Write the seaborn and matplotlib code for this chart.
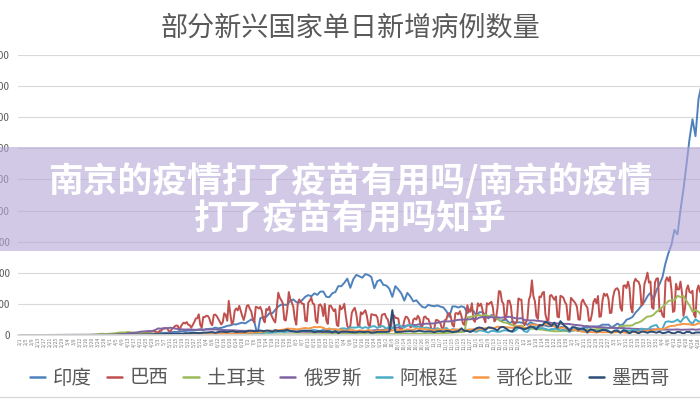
import numpy as np
import pandas as pd
import matplotlib.pyplot as plt
from matplotlib.lines import Line2D
from matplotlib.patches import Rectangle
import seaborn as sns

# daily new cases, in thousands
# India and the smaller countries: one value every 2 days from 2020-02-01
india = [
    0, 0, 0, 0, 0, 0, 0, 0, 0, 0, 0, 0, 0, 0, 0,                                   # Feb
    0, 0, 0, 0, 0, 0, 0, 0.03, 0.05, 0.1, 0.1, 0.1, 0.2, 0.1, 0.2,                  # Mar
    0.4, 0.5, 0.6, 0.7, 0.9, 1.0, 0.9, 1.1, 1.3, 1.4, 1.5, 1.6, 1.8, 1.9, 1.8,      # Apr
    2.3, 2.6, 3.6, 3.4, 3.6, 4.0, 5.0, 4.9, 5.6, 6.1, 6.6, 6.9, 7.2, 7.5, 8.0, 8.3, # May
    8.2, 9.3, 9.9, 10.0, 11.9, 10.7, 11.5, 12.9, 14.7, 15.4, 17.3, 16.9, 18.6, 19.9, 18.6,
    21.9, 24.9, 22.2, 0, 27.1, 28.7, 29.1, 34.9, 34.8, 40.4, 45.7, 48.9, 48.6, 48.5, 55.1,
    57.1, 52.9, 52.0, 56.3, 61.5, 64.1, 62.1, 66.9, 64.5, 69.7, 69.9, 61.4, 60.9, 67.1, 69.0, 78.5,
    78.4, 83.9, 90.6, 75.8, 89.7, 96.6, 94.4, 92.0, 97.9, 96.4, 93.3, 75.1, 86.5, 88.6, 80.5,
    79.5, 74.4, 61.3, 78.5, 73.2, 66.7, 55.3, 67.7, 61.9, 54.0, 55.8, 50.1, 45.1, 43.9, 48.6,
    46.9, 46.2, 47.6, 45.6, 44.3, 38.3, 29.2, 45.9, 45.9, 44.1, 46.2, 44.5, 35.0, 41.8, 38.8,
    31.1, 36.6, 36.7, 32.9, 26.6, 32.1, 30.3, 26.4, 22.9, 24.0, 24.7, 18.7, 21.8, 20.0, 20.5, 20.0,
    18.2, 16.4, 20.3, 18.1, 16.8, 12.6, 15.9, 15.2, 13.8, 14.3, 14.8, 9.1, 12.7, 13.1, 13.0,
    8.6, 12.9, 11.7, 11.1, 9.1, 12.2, 11.6, 13.2, 13.9, 13.7, 14.2, 16.7, 16.4, 16.8,
    12.3, 14.9, 18.3, 15.4, 17.9, 24.5, 26.3, 28.9, 35.9, 40.9, 47.3, 53.5, 62.3, 68.0, 56.2, 72.3,
    81.5, 93.2, 115.3, 131.9, 145.4, 168.9, 161.7, 200.7, 234.7, 273.8, 314.8, 346.8, 319.5, 379.3, 401.9,
]

# Brazil: daily, one row per week (Sat..Fri) starting 2020-02-01
brazil_weeks = [
    [0, 0, 0, 0, 0, 0, 0], [0, 0, 0, 0, 0, 0, 0], [0, 0, 0, 0, 0, 0, 0], [0, 0, 0, 0, 0, 0, 0],
    [0, 0, 0, 0, 0, 0, 0],
    [0, 0, 0, 0, 0.01, 0.02, 0.05],
    [0.05, 0.04, 0.07, 0.09, 0.1, 0.14, 0.3],
    [0.3, 0.2, 0.4, 0.3, 0.2, 0.5, 0.5],
    [0.5, 0.35, 0.3, 1.1, 1.2, 1.1, 1.1],
    [1.2, 0.9, 0.9, 1.6, 2.2, 1.9, 1.8],
    [1.2, 1.0, 1.3, 1.8, 3.0, 3.3, 3.1],
    [2.0, 1.9, 2.1, 1.8, 2.5, 3.7, 4.0],
    [3.5, 4.0, 4.6, 5.4, 6.3, 7.2, 5.0],
    [4.6, 4.1, 6.8, 6.6, 10.5, 9.9, 11.1],
    [10.6, 6.6, 5.6, 9.3, 11.4, 13.9, 15.3],
    [14.9, 7.9, 13.1, 17.4, 19.9, 18.5, 20.8],
    [16.5, 15.8, 11.7, 16.3, 20.6, 26.4, 26.9],
    [33.3, 16.4, 11.6, 28.9, 28.6, 30.9, 30.8],
    [27.1, 18.9, 15.7, 32.1, 32.9, 30.4, 25.9],
    [21.7, 17.1, 20.6, 34.9, 32.2, 22.8, 54.8],
    [34.7, 17.5, 21.4, 39.4, 42.7, 39.5, 46.9],
    [38.7, 30.5, 24.1, 33.8, 46.7, 48.1, 42.2],
    [37.9, 26.1, 20.2, 45.3, 44.6, 42.6, 45.0],
    [39.0, 24.8, 20.3, 41.8, 39.9, 45.4, 34.2],
    [28.5, 23.5, 20.3, 44.9, 67.9, 59.9, 55.9],
    [51.1, 24.6, 23.3, 40.8, 69.1, 57.8, 52.4],
    [45.4, 25.8, 16.6, 51.6, 57.2, 53.1, 50.2],
    [49.9, 23.0, 22.0, 52.1, 55.2, 60.1, 50.6],
    [49.3, 23.1, 19.4, 47.8, 49.3, 45.3, 30.4],
    [50.0, 23.4, 17.8, 47.2, 47.1, 42.7, 38.4],
    [41.4, 16.2, 14.3, 47.1, 41.4, 43.7, 50.2],
    [30.2, 14.5, 10.3, 14.8, 35.8, 40.6, 43.7],
    [33.5, 15.2, 13.4, 36.6, 33.4, 36.8, 39.8],
    [30.9, 16.4, 13.4, 33.5, 32.8, 31.9, 32.1],
    [28.2, 14.3, 13.0, 32.1, 33.4, 34.0, 27.8],
    [24.9, 12.3, 8.4, 31.6, 31.6, 27.4, 27.4],
    [26.3, 10.1, 9.1, 12.3, 23.4, 29.6, 28.4],
    [24.1, 12.4, 13.4, 24.8, 26.9, 24.8, 30.9],
    [26.9, 14.1, 13.5, 28.6, 29.8, 26.2, 25.7],
    [18.9, 10.1, 8.4, 10.8, 23.9, 24.0, 22.2],
    [18.9, 10.9, 10.6, 23.9, 25.0, 33.9, 35.3],
    [29.1, 16.2, 13.4, 34.9, 35.2, 33.1, 38.3],
    [30.9, 18.6, 16.2, 31.1, 47.9, 37.6, 37.6],
    [51.1, 24.5, 21.1, 31.9, 50.9, 46.9, 50.4],
    [41.5, 26.5, 20.4, 51.1, 48.9, 51.5, 53.3],
    [43.9, 21.8, 25.2, 42.4, 70.6, 69.8, 54.1],
    [50.2, 25.0, 30.0, 55.0, 55.3, 46.7, 22.3],
    [17.3, 18.4, 22.0, 58.7, 56.8, 56.8, 24.6],
    [15.8, 20.0, 25.1, 56.6, 63.4, 87.8, 62.4],
    [54.2, 29.8, 25.8, 61.8, 60.8, 67.8, 69.2],
    [33.0, 24.0, 23.7, 63.0, 64.3, 60.0, 56.6],
    [61.9, 29.5, 28.3, 63.0, 61.8, 59.9, 52.7],
    [49.1, 24.6, 24.6, 59.7, 56.9, 54.1, 50.9],
    [45.3, 25.0, 24.6, 52.5, 56.9, 51.5, 47.5],
    [43.6, 22.9, 23.1, 34.0, 53.0, 58.0, 51.0],
    [62.7, 29.1, 30.1, 55.0, 66.6, 63.0, 65.9],
    [58.2, 35.2, 35.8, 59.9, 70.8, 74.4, 75.1],
    [69.6, 43.8, 38.9, 79.2, 79.9, 75.4, 85.7],
    [76.2, 43.8, 36.2, 84.0, 90.3, 86.9, 85.7],
    [79.1, 47.8, 49.3, 82.5, 89.9, 100.2, 84.2],
    [85.9, 44.3, 42.0, 84.5, 90.6, 91.1, 37.9],
    [41.2, 31.4, 28.6, 86.9, 92.6, 86.7, 93.3],
    [71.8, 37.0, 38.9, 82.2, 73.5, 73.1, 85.8],
    [67.6, 30.6, 42.9, 73.2, 79.7, 69.1, 67.9],
    [71.1, 32.6, 28.6, 72.1, 79.7, 69.4, 67.6],
]
brazil = [v for week in brazil_weeks for v in week]

turkey = [
    0, 0, 0, 0, 0, 0, 0, 0, 0, 0, 0, 0, 0, 0, 0,
    0, 0, 0, 0, 0, 0, 0.005, 0.02, 0.1, 0.3, 0.6, 1.2, 2.0, 1.7, 1.6,
    2.1, 2.5, 3.0, 3.9, 4.1, 4.1, 4.8, 3.8, 3.9, 3.8, 3.1, 3.1, 2.9, 2.4, 2.1,
    2.2, 1.7, 1.6, 1.7, 1.5, 1.7, 1.4, 1.0, 1.2, 1.0, 0.95, 1.1, 1.0, 0.9, 0.85, 0.8,
    0.8, 1.0, 1.0, 1.1, 1.2, 1.5, 1.6, 1.5, 1.4, 1.4, 1.3, 1.2, 1.1, 1.2, 1.2,
    1.1, 1.1, 1.1, 1.0, 1.0, 0.95, 0.95, 0.9, 0.9, 0.95, 0.93, 0.92, 0.95, 0.97, 1.0,
    1.0, 1.0, 1.1, 1.2, 1.2, 1.2, 1.3, 1.3, 1.3, 1.4, 1.4, 1.5, 1.5, 1.5, 1.6, 1.6,
    1.6, 1.7, 1.7, 1.7, 1.7, 1.7, 1.7, 1.6, 1.6, 1.5, 1.5, 1.5, 1.4, 1.4, 1.4,
    1.4, 1.4, 1.4, 1.4, 1.5, 1.5, 1.6, 1.7, 1.8, 2.0, 2.1, 2.2, 2.3, 2.3, 2.4,
    2.5, 2.6, 2.7, 2.9, 3.1, 3.3, 3.5, 4.0, 4.2, 4.5, 4.8, 5.2, 28.4, 29.1, 30.1,
    31.2, 32.1, 30.4, 32.7, 30.4, 30.1, 29.7, 26.2, 22.4, 20.3, 19.8, 17.5, 15.8, 14.2, 13.7, 15.2,
    11.7, 10.3, 10.3, 10.0, 9.5, 8.9, 8.7, 7.6, 7.2, 6.6, 6.0, 6.0, 6.1, 6.3, 6.1,
    6.6, 7.0, 7.5, 7.1, 7.0, 7.8, 8.0, 8.8, 8.7, 9.6, 9.8, 10.3, 10.9, 11.2,
    11.8, 11.7, 11.3, 14.1, 14.6, 15.1, 15.1, 15.5, 18.9, 20.0, 22.3, 26.2, 29.7, 30.0, 32.4, 37.3,
    40.8, 44.8, 49.6, 54.7, 55.9, 55.8, 63.1, 61.0, 62.8, 54.8, 47.7, 37.3, 40.3, 37.3, 31.3,
]

russia = [
    0, 0, 0, 0, 0, 0, 0, 0, 0, 0, 0, 0, 0, 0, 0,
    0, 0, 0, 0, 0, 0, 0, 0.01, 0.03, 0.05, 0.07, 0.16, 0.18, 0.27, 0.3,
    0.44, 0.6, 0.95, 1.15, 1.46, 1.8, 2.55, 3.39, 3.45, 4.07, 5.24, 5.64, 6.06, 6.41, 5.84,
    7.93, 10.6, 10.1, 11.0, 10.9, 11.7, 10.9, 9.97, 9.26, 8.96, 8.76, 8.91, 8.85, 8.37, 8.57, 9.27,
    8.53, 8.83, 8.85, 8.79, 8.98, 8.40, 8.25, 8.25, 7.79, 7.6, 7.6, 7.18, 6.8, 6.69, 6.56,
    6.76, 6.73, 6.61, 6.56, 6.61, 6.64, 6.54, 6.42, 6.23, 6.06, 5.84, 5.87, 5.81, 5.63, 5.48,
    5.46, 5.4, 5.27, 5.2, 5.1, 5.1, 5.1, 5.0, 4.9, 4.8, 4.7, 4.8, 4.7, 4.8, 4.9, 4.73,
    4.97, 5.11, 5.2, 5.4, 5.5, 5.7, 5.9, 6.1, 6.2, 6.6, 7.0, 7.5, 8.1, 8.2, 8.2,
    9.4, 10.5, 11.6, 11.6, 12.1, 13.6, 14.2, 15.2, 15.7, 15.9, 16.2, 17.3, 17.3, 18.1, 18.3,
    18.6, 18.6, 19.7, 20.6, 21.8, 21.9, 21.8, 22.4, 23.6, 24.3, 24.6, 25.0, 25.2, 25.2, 26.6,
    25.4, 28.1, 28.8, 29.0, 28.6, 28.6, 28.2, 28.5, 27.7, 28.2, 28.9, 29.3, 28.1, 27.0, 26.5, 27.0,
    24.2, 23.7, 23.4, 23.5, 22.9, 22.6, 21.8, 21.1, 20.6, 19.3, 18.7, 18.6, 18.2, 18.0, 17.8,
    17.7, 16.7, 16.2, 15.7, 15.2, 14.2, 14.4, 13.5, 13.0, 12.8, 12.6, 12.4, 11.9, 11.5,
    11.5, 11.3, 11.0, 11.0, 11.2, 10.6, 10.6, 10.0, 9.9, 9.6, 9.1, 9.3, 9.1, 9.0, 9.0, 8.7,
    8.8, 8.6, 8.7, 8.6, 8.6, 8.7, 9.0, 8.4, 8.5, 8.7, 8.7, 9.1, 8.4, 8.8, 9.3,
]

argentina = [
    0, 0, 0, 0, 0, 0, 0, 0, 0, 0, 0, 0, 0, 0, 0,
    0, 0, 0, 0, 0, 0, 0.01, 0.01, 0.02, 0.04, 0.06, 0.05, 0.09, 0.1, 0.1,
    0.1, 0.1, 0.1, 0.1, 0.1, 0.08, 0.1, 0.1, 0.1, 0.1, 0.12, 0.15, 0.12, 0.12, 0.13,
    0.1, 0.15, 0.17, 0.2, 0.25, 0.28, 0.27, 0.35, 0.45, 0.6, 0.7, 0.6, 0.8, 0.65, 0.8, 0.8,
    0.9, 0.95, 1.1, 1.2, 1.4, 1.5, 1.6, 1.4, 1.9, 2.0, 2.3, 2.1, 2.6, 2.2, 2.7,
    2.8, 2.8, 2.6, 3.6, 3.4, 3.1, 4.2, 3.5, 4.2, 4.3, 5.3, 5.6, 4.6, 5.9, 6.4,
    5.9, 5.6, 6.8, 6.6, 7.4, 6.7, 7.1, 8.2, 6.8, 6.4, 8.7, 8.1, 7.6, 9.2, 8.5, 8.1,
    10.5, 10.7, 9.6, 12.0, 11.9, 12.0, 13.5, 10.9, 12.7, 11.2, 13.5, 14.4, 11.3, 14.1, 14.0,
    10.0, 13.9, 10.4, 15.0, 17.1, 13.5, 11.7, 15.5, 16.3, 13.5, 12.9, 13.6, 10.6, 11.8, 11.7,
    8.9, 9.3, 11.0, 8.7, 9.3, 11.5, 7.3, 9.4, 8.9, 7.8, 7.3, 7.2, 8.6, 8.4, 6.0,
    5.2, 7.4, 7.0, 5.5, 3.9, 6.8, 6.2, 5.1, 5.4, 7.4, 7.4, 6.3, 4.9, 7.1, 11.3, 10.6,
    5.8, 4.9, 11.6, 13.8, 12.0, 10.3, 11.2, 9.8, 8.2, 9.5, 9.5, 10.4, 7.3, 8.7, 7.5,
    4.9, 7.2, 8.2, 6.3, 7.4, 6.2, 3.5, 8.2, 6.9, 4.3, 7.6, 7.0, 9.0, 7.1,
    3.2, 6.8, 8.0, 4.5, 8.2, 7.3, 6.5, 8.4, 8.2, 6.3, 10.4, 8.6, 7.4, 12.9, 15.0, 16.1,
    8.6, 10.1, 20.9, 22.0, 20.9, 21.8, 24.8, 20.5, 27.0, 29.5, 22.0, 18.1, 25.3, 21.8, 21.1,
]

colombia = [
    0, 0, 0, 0, 0, 0, 0, 0, 0, 0, 0, 0, 0, 0, 0,
    0, 0, 0, 0, 0, 0, 0, 0.01, 0.03, 0.03, 0.05, 0.06, 0.05, 0.08, 0.05,
    0.1, 0.1, 0.1, 0.1, 0.1, 0.1, 0.1, 0.1, 0.12, 0.2, 0.2, 0.25, 0.25, 0.2, 0.26,
    0.2, 0.3, 0.3, 0.4, 0.5, 0.4, 0.35, 0.6, 0.6, 0.6, 0.7, 0.6, 0.8, 0.7, 0.9, 1.0,
    1.2, 1.2, 1.3, 1.5, 1.4, 1.6, 1.8, 2.0, 1.9, 2.1, 2.7, 3.2, 3.2, 3.4, 3.1,
    3.6, 3.8, 4.2, 4.2, 4.4, 5.3, 6.0, 7.0, 6.7, 7.8, 7.7, 8.1, 9.0, 10.3, 10.0,
    10.0, 9.0, 9.4, 10.6, 11.3, 10.5, 11.4, 12.8, 12.5, 13.1, 11.5, 9.1, 10.6, 8.7, 9.5, 8.5,
    8.4, 7.6, 6.4, 9.0, 7.8, 6.0, 7.4, 7.1, 6.3, 8.1, 6.3, 5.3, 6.9, 7.6, 7.0,
    8.1, 7.0, 7.1, 8.6, 7.3, 8.0, 7.2, 9.1, 8.5, 8.1, 10.6, 9.6, 10.0, 9.4, 8.6,
    8.4, 7.1, 9.1, 8.1, 9.0, 8.4, 7.9, 8.4, 8.3, 9.0, 7.9, 7.2, 8.0, 8.8, 9.2,
    8.0, 9.9, 9.8, 10.8, 11.4, 11.4, 11.1, 13.4, 12.9, 13.0, 12.3, 12.1, 11.2, 13.0, 14.6, 13.2,
    10.8, 11.6, 16.3, 17.0, 16.1, 15.6, 14.9, 18.0, 16.6, 15.1, 13.9, 12.8, 11.1, 12.4, 9.7,
    7.4, 8.2, 7.9, 6.7, 5.7, 4.7, 5.3, 4.8, 4.6, 3.9, 4.9, 4.3, 4.6, 4.4,
    3.9, 4.4, 4.8, 4.4, 4.4, 3.5, 3.7, 4.8, 4.6, 4.6, 5.3, 6.3, 6.7, 7.2, 7.6, 9.2,
    9.9, 9.7, 10.8, 13.5, 14.6, 14.8, 16.4, 16.9, 18.0, 17.3, 17.5, 15.8, 16.6, 18.9, 17.7,
]

mexico = [
    0, 0, 0, 0, 0, 0, 0, 0, 0, 0, 0, 0, 0, 0, 0,
    0, 0, 0, 0, 0, 0, 0, 0.01, 0.02, 0.03, 0.05, 0.06, 0.09, 0.1, 0.13,
    0.16, 0.16, 0.2, 0.3, 0.4, 0.4, 0.3, 0.5, 0.6, 0.5, 0.7, 0.8, 1.0, 0.9, 1.2,
    1.4, 1.3, 1.3, 1.6, 1.9, 1.9, 2.0, 1.9, 2.4, 2.1, 3.0, 2.8, 3.3, 3.5, 3.2, 3.2,
    3.9, 3.9, 4.4, 4.8, 3.5, 4.8, 5.2, 5.0, 4.6, 5.7, 6.1, 4.6, 5.3, 5.4, 4.8,
    6.7, 6.9, 6.1, 6.3, 7.3, 6.1, 7.1, 6.9, 5.3, 7.6, 6.4, 6.8, 6.9, 8.5, 6.4,
    6.1, 5.1, 5.5, 6.8, 6.6, 6.6, 6.9, 4.4, 5.9, 6.0, 5.7, 6.0, 5.7, 3.9, 6.3, 3.0,
    5.4, 5.5, 5.3, 4.7, 4.3, 4.4, 5.3, 4.8, 4.7, 5.3, 3.6, 4.1, 4.9, 5.0, 5.0,
    4.9, 5.4, 40.0, 4.7, 4.9, 5.0, 5.6, 5.9, 6.2, 5.4, 5.9, 6.9, 6.0, 5.4, 5.9,
    5.6, 4.4, 6.1, 6.2, 5.4, 6.6, 6.3, 4.5, 5.4, 6.2, 10.8, 6.5, 6.4, 4.8, 7.5,
    10.8, 12.1, 11.0, 8.0, 12.3, 11.6, 9.9, 7.4, 12.4, 12.9, 10.0, 6.6, 5.9, 12.0, 12.4, 10.7,
    9.1, 10.9, 13.7, 12.4, 9.0, 16.1, 15.5, 21.4, 18.9, 14.6, 20.0, 11.6, 22.3, 16.3, 12.2,
    6.5, 12.2, 12.1, 8.3, 10.6, 9.3, 4.6, 9.2, 8.1, 5.5, 6.2, 8.4, 7.8, 5.7,
    4.0, 6.9, 6.7, 3.5, 7.4, 6.0, 2.5, 5.8, 5.2, 2.4, 5.5, 5.1, 3.5, 5.4, 4.9, 3.7,
    5.4, 3.0, 3.6, 5.4, 3.3, 2.5, 5.1, 4.4, 2.2, 4.9, 5.0, 2.3, 3.9, 4.2, 3.5,
]

names = ['印度', '巴西', '土耳其', '俄罗斯', '阿根廷', '哥伦比亚', '墨西哥']
series = [india, brazil, turkey, russia, argentina, colombia, mexico]
steps = [2, 1, 2, 2, 2, 2, 2]
colors = ['#4f81bd', '#c0504d', '#9bbb59', '#8064a2', '#4bacc6', '#f79646', '#2c4d75']

start = pd.Timestamp('2020-02-01')
frames = []
for name, vals, step in zip(names, series, steps):
    dates = pd.date_range(start, periods=len(vals), freq=f'{step}D')
    frames.append(pd.DataFrame({'date': dates, 'cases': np.array(vals) * 1000, 'country': name}))
df = pd.concat(frames, ignore_index=True)

tick_dates = pd.date_range(start, '2021-04-29', freq='4D')
tick_labels = [f'{d.month}/{d.day}' for d in tick_dates]

sns.set_theme(style='white')
plt.rcParams['font.family'] = ['Noto Sans CJK SC', 'DejaVu Sans']

fig = plt.figure(figsize=(7, 4), dpi=100)
ax = fig.add_axes([0.026, 0.1625, 0.974, 0.7])

sns.lineplot(data=df, x='date', y='cases', hue='country', hue_order=names,
             palette=colors, estimator=None, linewidth=1.4, legend=False, ax=ax)

ax.set_xlim(start - pd.Timedelta(days=1.3), start + pd.Timedelta(days=453))
ax.set_ylim(0, 450000)
ax.set_yticks(range(0, 450001, 50000))
ax.tick_params(axis='y', length=0, pad=6, labelsize=7, labelcolor='#595959')
ax.set_xticks(tick_dates)
ax.set_xticklabels(tick_labels, rotation=90, fontsize=3.6, color='#7f7f7f')
ax.tick_params(axis='x', length=0, pad=1.5)
ax.grid(axis='y', color='#d9d9d9', linewidth=0.8)
ax.set_xlabel('')
ax.set_ylabel('')
for side in ['left', 'top', 'right']:
    ax.spines[side].set_visible(False)
ax.spines['bottom'].set_color('#d9d9d9')

fig.text(0.5, 1 - 28 / 400, '部分新兴国家单日新增病例数量', ha='center', va='center',
         fontsize=19.5, color='#595959')

handles = [Line2D([0], [0], color=c, lw=1.8) for c in colors]
fig.legend(handles, names, loc='center', bbox_to_anchor=(0.5, 1 - 378 / 400), ncol=7,
           frameon=False, fontsize=14, handlelength=0.8, handletextpad=0.4,
           columnspacing=0.75, labelcolor='#595959')

fig.add_artist(Line2D([0, 1], [0.008, 0.008], color='#d9d9d9', lw=1))

# overlay banner
fig.add_artist(Rectangle((0, 1 - 251 / 400), 1, 104 / 400, transform=fig.transFigure,
                         facecolor='#b5a8d8', alpha=0.62, edgecolor='none', zorder=10))
fig.text(0.5, 1 - 181 / 400, '南京的疫情打了疫苗有用吗/南京的疫情', ha='center', va='center',
         fontsize=25, fontweight='heavy', color='white', zorder=11)
fig.text(0.5, 1 - 219 / 400, '打了疫苗有用吗知乎', ha='center', va='center',
         fontsize=25, fontweight='heavy', color='white', zorder=11)

fig.savefig('out.png', dpi=100)
